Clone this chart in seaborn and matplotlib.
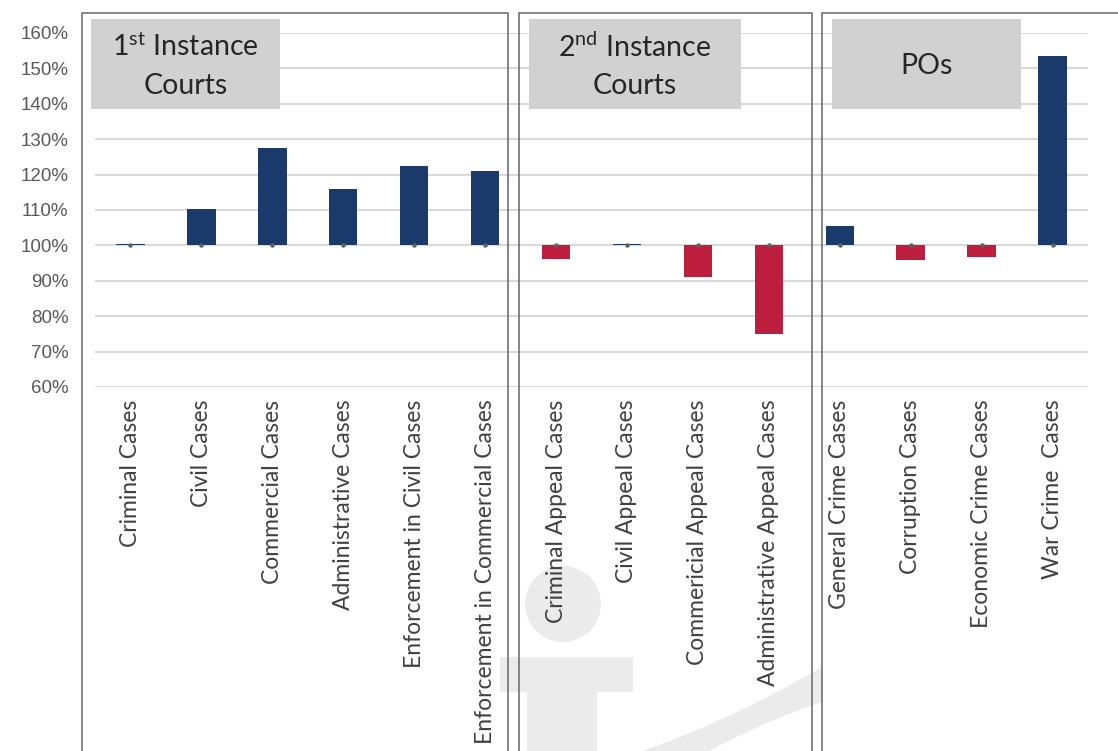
import numpy as np
import pandas as pd
import matplotlib
matplotlib.use("Agg")
import matplotlib.pyplot as plt
import seaborn as sns
from matplotlib.patches import Rectangle, Ellipse, Polygon

# ---- data -------------------------------------------------------------
categories = [
    "Criminal Cases", "Civil Cases", "Commercial Cases", "Administrative Cases",
    "Enforcement in Civil Cases", "Enforcement in Commercial Cases",
    "Criminal Appeal Cases", "Civil Appeal Cases", "Commericial Appeal Cases",
    "Administrative Appeal Cases",
    "General Crime Cases", "Corruption Cases", "Economic Crime Cases",
    "War Crime  Cases",
]
ratio_pct = [100.3, 110.4, 127.5, 115.8, 122.3, 121.0,
             96.1, 100.5, 91.1, 75.1,
             105.5, 96.0, 96.6, 153.4]
baseline_pct = [100] * 14
group_titles = ["1$^{\\mathrm{st}}$ Instance\nCourts",
                "2$^{\\mathrm{nd}}$ Instance\nCourts",
                "POs"]
y_ticks = [60, 70, 80, 90, 100, 110, 120, 130, 140, 150, 160]
y_tick_labels = [f"{v}%" for v in y_ticks]

BLUE = "#1B3A6B"
RED = "#BE1E3D"

# ---- style ------------------------------------------------------------
sns.set_style("white")
plt.rcParams["font.family"] = ["Lato", "DejaVu Sans"]
plt.rcParams["mathtext.fontset"] = "custom"
plt.rcParams["mathtext.rm"] = "Lato"
plt.rcParams["mathtext.it"] = "Lato:italic"
plt.rcParams["mathtext.bf"] = "Lato:bold"

W, H = 1118, 751
fig = plt.figure(figsize=(W / 100, H / 100), dpi=100)
fig.patch.set_facecolor("white")


def fx(x):
    return x / W


def fy(y):
    return 1 - y / H


ax = fig.add_axes([fx(95), fy(387), (1088 - 95) / W, (387 - 33) / H])
ax.set_facecolor("none")

df = pd.DataFrame({"category": categories, "ratio": ratio_pct})
df["change"] = df["ratio"] - 100
df["trend"] = np.where(df["change"] >= 0, "up", "down")

sns.barplot(data=df, x="category", y="change", hue="trend", order=categories,
            palette={"up": BLUE, "down": RED}, saturation=1, width=0.4,
            bottom=100, dodge=False, legend=False, errorbar=None, ax=ax,
            linewidth=0, zorder=2)

sns.stripplot(x=categories, y=baseline_pct, order=categories, jitter=False,
              color="#606060", size=3.2, marker="o", linewidth=0, ax=ax,
              zorder=4)

ax.set_xlim(-0.5, len(categories) - 0.5)
ax.set_ylim(60, 160)
ax.set_yticks(y_ticks)
ax.set_yticklabels(y_tick_labels, family=["Liberation Sans", "DejaVu Sans"],
                   fontsize=13.5, color="#595959")
ax.set_xticks(range(len(categories)))
ax.set_xticklabels(categories, rotation=90, fontsize=16.5, color="#404040",
                   va="top", ha="center")
ax.tick_params(axis="y", length=0, pad=19)
ax.tick_params(axis="x", length=0, pad=9)
ax.set_xlabel("")
ax.set_ylabel("")
ax.yaxis.grid(True, color="#D9D9D9", linewidth=1.5)
ax.xaxis.grid(False)
ax.set_axisbelow(True)
for s in ax.spines.values():
    s.set_visible(False)

# ---- watermark logo in the background --------------------------------
WM = "#EBEBEB"
fig.add_artist(Ellipse((fx(563), fy(604)), 76 / W, 76 / H,
                       transform=fig.transFigure, facecolor=WM,
                       edgecolor="none", zorder=-1))
fig.add_artist(Rectangle((fx(500), fy(692)), (633 - 500) / W, 35 / H,
                         transform=fig.transFigure, facecolor=WM,
                         edgecolor="none", zorder=-1))
fig.add_artist(Rectangle((fx(527), fy(760)), (597 - 527) / W, (760 - 692) / H,
                         transform=fig.transFigure, facecolor=WM,
                         edgecolor="none", zorder=-1))


def bez(p0, p1, p2, n=40):
    t = np.linspace(0, 1, n)[:, None]
    return (1 - t) ** 2 * np.array(p0) + 2 * (1 - t) * t * np.array(p1) + t ** 2 * np.array(p2)


upper = bez((630, 755), (720, 726), (822, 667))
lower = bez((822, 702), (762, 722), (702, 755))
pts = np.vstack([upper, lower])
pts_fig = np.column_stack([pts[:, 0] / W, 1 - pts[:, 1] / H])
fig.add_artist(Polygon(pts_fig, closed=True, transform=fig.transFigure,
                       facecolor=WM, edgecolor="none", zorder=-1))

# ---- group frames and title boxes -------------------------------------
frames = [(82, 508.3), (518.7, 811.7), (821.7, 1140)]
for x0, x1 in frames:
    fig.add_artist(Rectangle((fx(x0), fy(770)), (x1 - x0) / W, (770 - 13) / H,
                             transform=fig.transFigure, fill=False,
                             edgecolor="#666666", linewidth=1.1, zorder=3))

boxes = [(91, 280), (529, 741), (832, 1021)]
for (x0, x1), title in zip(boxes, group_titles):
    fig.add_artist(Rectangle((fx(x0), fy(109)), (x1 - x0) / W, 90 / H,
                             transform=fig.transFigure, facecolor="#D0D1D0",
                             edgecolor="none", zorder=4))
    fig.text(fx((x0 + x1) / 2), fy(66), title, ha="center", va="center",
             fontsize=20.5, color="#262626", linespacing=1.55,
             multialignment="center", zorder=5)

fig.savefig("out.png", dpi=100)
